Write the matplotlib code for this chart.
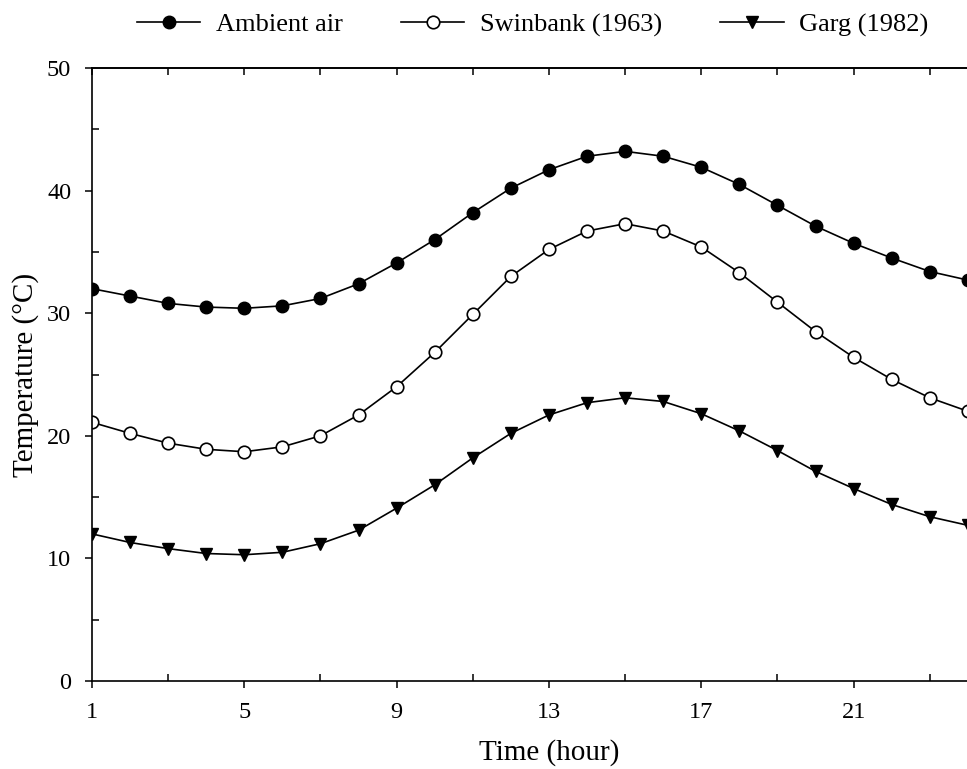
import numpy as np
import matplotlib
matplotlib.use('Agg')
import matplotlib.pyplot as plt

plt.rcParams['font.family'] = ['Liberation Serif', 'DejaVu Serif']

# 数据
hours = list(range(1, 25))
ambient = [32.0, 31.4, 30.8, 30.5, 30.4, 30.6, 31.2, 32.4, 34.1, 36.0, 38.2, 40.2,
           41.7, 42.8, 43.2, 42.8, 41.9, 40.5, 38.8, 37.1, 35.7, 34.5, 33.4, 32.7]
swinbank = [21.1, 20.2, 19.4, 18.9, 18.7, 19.1, 20.0, 21.7, 24.0, 26.8, 29.9, 33.0,
            35.2, 36.7, 37.3, 36.7, 35.4, 33.3, 30.9, 28.5, 26.4, 24.6, 23.1, 22.0]
garg = [12.0, 11.3, 10.8, 10.4, 10.3, 10.5, 11.2, 12.3, 14.1, 16.0, 18.2, 20.2,
        21.7, 22.7, 23.1, 22.8, 21.8, 20.4, 18.8, 17.1, 15.7, 14.4, 13.4, 12.7]
xticks_major = [1, 5, 9, 13, 17, 21]
xticks_minor = [3, 7, 11, 15, 19, 23]

fig = plt.figure(figsize=(9.67, 7.69), dpi=100)
# 右边被裁掉一部分，所以坐标轴超出画布
ax = fig.add_axes([0.0951, 0.1144, 0.9452, 0.7972])

lw = 1.2
ax.plot(hours, ambient, color='black', lw=lw, marker='o', ms=9,
        mfc='black', mec='black', label='Ambient air')
ax.plot(hours, swinbank, color='black', lw=lw, marker='o', ms=9,
        mfc='white', mec='black', mew=1.2, label='Swinbank (1963)')
ax.plot(hours, garg, color='black', lw=lw, marker='v', ms=9,
        mfc='black', mec='black', label='Garg (1982)')

ax.set_xlim(1, 25)
ax.set_ylim(0, 50)

ax.set_xticks(xticks_major)
ax.set_xticks(xticks_minor, minor=True)
ax.set_yticks(range(0, 51, 10))
ax.set_yticks(range(5, 50, 10), minor=True)
ax.tick_params(which='major', direction='out', length=5, width=1.1, labelsize=17.5, pad=10)
ax.tick_params(which='minor', direction='in', length=5, width=1.1)

# 上边和右边的刻度（朝里）
top = ax.secondary_xaxis('top')
top.set_xticks(range(1, 25, 2))
top.tick_params(direction='in', length=5, width=1.1, labeltop=False)
top.set_xticklabels([])
right = ax.secondary_yaxis('right')
right.set_yticks(range(5, 50, 10))
right.tick_params(direction='in', length=5, width=1.1, labelright=False)
right.set_yticklabels([])

for sp in ax.spines.values():
    sp.set_linewidth(1.2)
top.spines['top'].set_linewidth(1.2)
right.spines['right'].set_linewidth(1.2)

ax.set_xlabel('Time (hour)', fontsize=21, labelpad=12)
ax.set_ylabel('Temperature (°C)', fontsize=21, labelpad=6)

fig.legend(loc='center', bbox_to_anchor=(0.551, 0.968), ncol=3, frameon=False,
           fontsize=19, handlelength=2.4, handletextpad=0.6, columnspacing=2.2)

plt.savefig('out.png', dpi=100)
